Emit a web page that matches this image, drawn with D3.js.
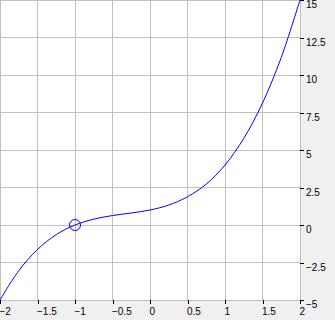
<!DOCTYPE html>
<html lang="en">
<head>
    <meta charset="UTF-8">
    <title>Cubic curve</title>
    <script src="https://d3js.org/d3.v7.min.js"></script>
    <style>
        body { margin: 0; background: #f0f0f0; }
        svg { display: block; font-family: "Liberation Sans", Arial, sans-serif; font-size: 10px; }
        .grid line { stroke: #c0c0c0; stroke-width: 1px; shape-rendering: crispEdges; }
        .axis path { display: none; }
        .axis line { stroke: #000; shape-rendering: crispEdges; }
        .axis text { fill: #000; }
        .curve { fill: none; stroke: #0000ff; stroke-width: 1px; }
        .marker { fill: none; stroke: #0000ff; stroke-width: 1px; }
    </style>
</head>
<body>
    <div id="chart"></div>
    <script>
        // Values
        const xValues = [-2, -1.75, -1.5, -1.25, -1, -0.75, -0.5, -0.25, 0, 0.25, 0.5, 0.75, 1, 1.25, 1.5, 1.75, 2];
        const yValues = [-5, -3.05, -1.63, -0.64, 0, 0.39, 0.63, 0.8, 1, 1.33, 1.88, 2.73, 4, 5.77, 8.13, 11.17, 15];
        const markerPoint = [-1, 0];
        const xTicks = [-2, -1.5, -1, -0.5, 0, 0.5, 1, 1.5, 2];
        const yTicks = [-5, -2.5, 0, 2.5, 5, 7.5, 10, 12.5, 15];

        const width = 335, height = 320;
        const plotW = 300, plotH = 300;

        const svg = d3.select("#chart")
            .append("svg")
            .attr("width", width)
            .attr("height", height);

        const x = d3.scaleLinear().domain([-2, 2]).range([0, plotW]);
        const y = d3.scaleLinear().domain([-5, 15]).range([plotH, 0]);

        // Plot background
        svg.append("rect")
            .attr("x", 0).attr("y", 0)
            .attr("width", plotW).attr("height", plotH)
            .attr("fill", "#fff");

        // Grid lines
        const grid = svg.append("g").attr("class", "grid");
        grid.selectAll(".vgrid")
            .data(xTicks)
            .join("line")
            .attr("x1", d => x(d)).attr("x2", d => x(d))
            .attr("y1", 0).attr("y2", plotH);
        grid.selectAll(".hgrid")
            .data(yTicks)
            .join("line")
            .attr("x1", 0).attr("x2", plotW)
            .attr("y1", d => y(d)).attr("y2", d => y(d));

        // Axes
        svg.append("g")
            .attr("class", "axis")
            .attr("transform", `translate(0,${plotH})`)
            .call(d3.axisBottom(x).tickValues(xTicks).tickSize(4).tickPadding(0).tickFormat(d3.format("")))
            .call(g => g.selectAll("text")
                .attr("text-anchor", "start")
                .attr("x", -1)
                .attr("dy", null)
                .attr("y", 15));

        svg.append("g")
            .attr("class", "axis")
            .attr("transform", `translate(${plotW},0)`)
            .call(d3.axisRight(y).tickValues(yTicks).tickSize(4).tickPadding(2).tickFormat(d3.format("")))
            .call(g => g.selectAll("text")
                .attr("dy", null)
                .attr("y", 7.5));

        // Curve
        const points = xValues.map((d, i) => [d, yValues[i]]);
        const line = d3.line()
            .x(d => x(d[0]))
            .y(d => y(d[1]))
            .curve(d3.curveCatmullRom);

        svg.append("path")
            .attr("class", "curve")
            .datum(points)
            .attr("d", line);

        // Marker
        svg.append("circle")
            .attr("class", "marker")
            .attr("cx", x(markerPoint[0]))
            .attr("cy", y(markerPoint[1]))
            .attr("r", 5.5);
    </script>
</body>
</html>
